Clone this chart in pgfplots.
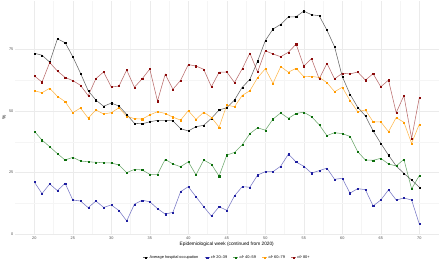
\documentclass[border=0pt]{standalone}
\usepackage{pgfplots}
\pgfplotsset{compat=1.18}
\usepackage{pgfplotstable}
\usepackage{fontspec}
\setmainfont{Liberation Sans}
\definecolor{cblue}{HTML}{1E1EA0}
\definecolor{cgreen}{HTML}{0B6E0B}
\definecolor{corange}{HTML}{FF9A00}
\definecolor{cred}{HTML}{8B0A0A}
\pgfplotstableread{
week avg c2039 c4059 c6079 c80
20 73.4 21.2 41.8 58.2 64.2
21 72.6 16.5 38.2 57.4 61.7
22 69.8 20.4 35.5 59.2 69.6
23 79.2 17.7 32.7 55.9 66.2
24 77.7 20.7 30.1 53.8 63.6
25 72.0 13.9 31.2 49.3 62.3
26 65.3 13.5 29.7 51.2 60.4
27 58.2 10.8 29.4 47.1 56.2
28 54.4 13.5 29.2 50.4 63.1
29 51.9 10.9 29.0 48.8 65.8
30 53.2 11.9 28.9 49.3 59.7
31 52.0 9.6 28.1 51.3 60.1
32 48.6 5.4 25.0 47.8 66.6
33 45.0 12.2 26.3 46.9 59.6
34 44.8 13.8 26.1 46.7 63.0
35 45.6 13.2 24.3 48.4 67.0
36 46.2 10.4 24.3 49.7 54.0
37 46.2 8.2 30.4 49.0 64.9
38 46.0 8.9 28.5 47.5 58.8
39 42.8 17.3 27.4 46.3 62.4
40 41.9 19.3 29.4 50.1 68.8
41 43.6 15.2 24.1 46.6 68.2
42 44.2 11.2 30.1 49.5 66.9
43 47.0 7.4 28.4 47.4 59.8
44 50.4 11.2 23.6 43.4 65.7
45 51.3 9.7 32.1 52.4 65.8
46 54.4 15.6 33.2 51.7 61.5
47 59.6 19.3 36.3 56.3 67.1
48 62.8 19.1 40.8 58.2 73.4
49 70.2 24.0 43.2 63.5 65.8
50 78.5 25.4 42.2 67.1 74.4
51 83.2 25.4 46.7 61.2 73.1
52 85.1 27.6 49.2 68.0 72.0
53 88.1 32.5 47.0 65.7 73.8
54 88.2 29.3 49.0 67.3 77.1
55 90.5 27.6 49.5 63.9 68.2
56 89.0 24.8 47.7 64.0 71.2
57 88.6 25.8 44.4 63.6 63.0
58 82.8 26.8 40.0 61.5 69.3
59 76.0 22.3 41.2 57.8 63.0
60 63.9 22.7 40.8 59.6 65.3
61 56.8 16.7 39.7 54.2 65.0
62 51.5 18.5 33.5 49.7 65.8
63 48.0 18.1 30.1 50.4 62.5
64 41.9 11.5 30.0 45.6 65.1
65 36.9 13.9 30.8 45.6 59.8
66 32.1 18.0 28.5 41.6 62.5
67 27.7 13.9 27.7 47.3 49.3
68 24.7 14.7 30.4 45.4 56.2
69 22.0 13.9 18.4 36.9 38.9
70 19.1 4.2 23.8 44.6 55.4
}\datatable
\begin{document}
\begin{tikzpicture}
\path[use as bounding box] (-15.05bp,-25.96bp) rectangle (424.95bp,235.04bp);
\begin{axis}[
  scale only axis, width=423.5bp, height=234.1bp,
  xmin=17.5, xmax=72.5, ymin=-0.3, ymax=94.6,
  axis line style={draw=none},
  major tick length=0pt, minor tick length=0pt,
  xtick={20,25,...,70}, ytick={0,25,50,75},
  minor x tick num=1, minor y tick num=1,
  grid=both,
  major grid style={color=black!8, line width=0.5bp},
  minor grid style={color=black!4, line width=0.3bp},
  /pgf/number format/assume math mode=true,
  tick label style={font=\fontsize{3.84}{4}\selectfont, text=black!70, inner sep=0pt},
  xticklabel style={yshift=-2bp},
  yticklabel style={xshift=-1.5bp},
  xlabel={Epidemiological week (continued from 2020)},
  xlabel style={font=\fontsize{4.8}{5}\selectfont, at={(axis description cs:0.5,-0.0383)}, anchor=center, inner sep=0pt},
  ylabel={\%},
  ylabel style={font=\fontsize{4.8}{5}\selectfont, at={(axis description cs:-0.0261,0.504)}, anchor=center, inner sep=0pt},
  legend columns=5,
  legend style={at={(0.5,-0.0968)}, anchor=center, draw=none, fill=none, inner sep=0pt,
    font=\fontsize{3.9}{4}\selectfont,
    /tikz/every even column/.append style={column sep=5bp},
    nodes={inner sep=1bp}},
  legend image code/.code={\draw[mark repeat=2,mark phase=2,#1] plot coordinates {(0bp,0bp) (2.5bp,0bp) (5bp,0bp)};},
  every axis plot/.append style={line width=0.55bp, mark=square*, mark size=0.55bp, mark options={solid, line width=0.2bp, fill opacity=1, draw opacity=1}},
]
\addplot[color=black, draw opacity=0.6] table[x=week,y=avg] {\datatable};
\addlegendentry{Average hospital occupation}
\addplot[color=cblue, draw opacity=0.6] table[x=week,y=c2039] {\datatable};
\addlegendentry{\textit{cfr} 20--39}
\addplot[color=cgreen, draw opacity=0.6] table[x=week,y=c4059] {\datatable};
\addlegendentry{\textit{cfr} 40--59}
\addplot[color=corange, draw opacity=0.7] table[x=week,y=c6079] {\datatable};
\addlegendentry{\textit{cfr} 60--79}
\addplot[color=cred, draw opacity=0.6] table[x=week,y=c80] {\datatable};
\addlegendentry{\textit{cfr} 80+}
\end{axis}
\end{tikzpicture}
\end{document}
